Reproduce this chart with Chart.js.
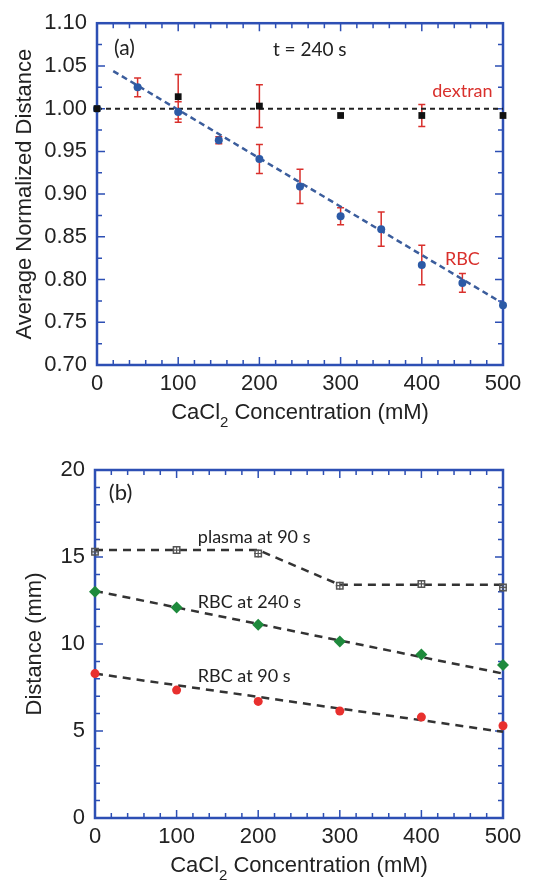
<!DOCTYPE html>
<html>
<head>
<meta charset="utf-8">
<script src="https://cdn.jsdelivr.net/npm/chart.js@4.4.0/dist/chart.umd.min.js"></script>
<style>
  body { margin: 0; background: #fff; width: 542px; height: 885px; overflow: hidden; }
  canvas { display: block; }
</style>
</head>
<body>
<canvas id="chartA" width="542" height="440"></canvas>
<canvas id="chartB" width="542" height="445"></canvas>
<script>
// ---- panel (a): average normalized distance, t = 240 s ----
const rbcConc = [0, 50, 100, 150, 200, 250, 300, 350, 400, 450, 500];
const rbcDist = [1.000, 1.025, 0.996, 0.963, 0.941, 0.909, 0.874, 0.859, 0.817, 0.796, 0.770];
const rbcErr  = [0, 0.011, 0.012, 0.004, 0.017, 0.020, 0.010, 0.020, 0.023, 0.011, 0];
const dexConc = [0, 100, 200, 300, 400, 500];
const dexDist = [1.000, 1.014, 1.003, 0.992, 0.992, 0.992];
const dexErr  = [0, 0.026, 0.025, 0, 0.013, 0];
const rbcFitConc = [20, 500];
const rbcFitDist = [1.044, 0.772];
const dexFitConc = [0, 500];
const dexFitDist = [1.0, 1.0];

// ---- panel (b): distance in mm ----
const concB = [0, 100, 200, 300, 400, 500];
const plasma90 = [15.3, 15.4, 15.2, 13.35, 13.45, 13.25];
const rbc240 = [13.0, 12.1, 11.1, 10.15, 9.4, 8.8];
const rbc90 = [8.3, 7.35, 6.7, 6.15, 5.8, 5.3];
const plasmaFitConc = [0, 200, 300, 500];
const plasmaFit = [15.4, 15.4, 13.4, 13.4];
const rbc240FitConc = [0, 500];
const rbc240Fit = [13.05, 8.3];
const rbc90FitConc = [0, 500];
const rbc90Fit = [8.3, 4.95];

const frameBlue = "#2d4fb4";
const textFont = "Lato, 'Open Sans', sans-serif";

Chart.defaults.font.family = "'Liberation Sans', Arial, sans-serif";
Chart.defaults.font.size = 22;
Chart.defaults.color = "#222";

function pts(xs, ys) {
  return xs.map((x, i) => ({ x: x, y: ys[i] }));
}

// frame + inward ticks on all four sides, x title with subscript
const framePlugin = {
  id: "frame",
  beforeDatasetsDraw(chart) {
    const { ctx, chartArea: a, scales } = chart;
    ctx.save();
    ctx.strokeStyle = frameBlue;
    ctx.lineWidth = 1.5;
    ctx.beginPath();
    scales.x.ticks.forEach((t) => {
      const px = scales.x.getPixelForValue(t.value);
      const len = t.label ? 8 : 5;
      ctx.moveTo(px, a.bottom); ctx.lineTo(px, a.bottom - len);
      ctx.moveTo(px, a.top); ctx.lineTo(px, a.top + len);
    });
    scales.y.ticks.forEach((t) => {
      const py = scales.y.getPixelForValue(t.value);
      const len = t.label ? 8 : 5;
      ctx.moveTo(a.left, py); ctx.lineTo(a.left + len, py);
      ctx.moveTo(a.right, py); ctx.lineTo(a.right - len, py);
    });
    ctx.stroke();
    ctx.lineWidth = 2.5;
    ctx.strokeRect(a.left, a.top, a.right - a.left, a.bottom - a.top);
    ctx.restore();
  },
  afterDraw(chart) {
    const { ctx, chartArea: a } = chart;
    ctx.save();
    ctx.fillStyle = "#222";
    ctx.textBaseline = "alphabetic";
    ctx.textAlign = "left";
    const big = "22px 'Liberation Sans', Arial, sans-serif";
    const small = "15px 'Liberation Sans', Arial, sans-serif";
    ctx.font = big;
    const w1 = ctx.measureText("CaCl").width;
    const w3 = ctx.measureText(" Concentration (mM)").width;
    ctx.font = small;
    const w2 = ctx.measureText("2").width;
    let x = (a.left + a.right) / 2 - (w1 + w2 + w3) / 2;
    const y = a.bottom + 54;
    ctx.font = big;
    ctx.fillText("CaCl", x, y);
    x += w1;
    ctx.font = small;
    ctx.fillText("2", x, y + 8);
    x += w2;
    ctx.font = big;
    ctx.fillText(" Concentration (mM)", x, y);
    ctx.restore();
  }
};

function errorBarPlugin(sets) {
  return {
    id: "errbars",
    beforeDatasetsDraw(chart) {
      const { ctx, scales } = chart;
      ctx.save();
      ctx.strokeStyle = "#d9302c";
      ctx.lineWidth = 1.5;
      ctx.beginPath();
      sets.forEach((s) => {
        s.x.forEach((v, i) => {
          if (!s.err[i]) return;
          const px = scales.x.getPixelForValue(v);
          const y1 = scales.y.getPixelForValue(s.y[i] + s.err[i]);
          const y2 = scales.y.getPixelForValue(s.y[i] - s.err[i]);
          ctx.moveTo(px, y1); ctx.lineTo(px, y2);
          ctx.moveTo(px - 3.5, y1); ctx.lineTo(px + 3.5, y1);
          ctx.moveTo(px - 3.5, y2); ctx.lineTo(px + 3.5, y2);
        });
      });
      ctx.stroke();
      ctx.restore();
    }
  };
}

function labelPlugin(labels) {
  return {
    id: "labels",
    afterDatasetsDraw(chart) {
      const { ctx, scales } = chart;
      ctx.save();
      ctx.textBaseline = "middle";
      labels.forEach((l) => {
        ctx.font = (l.size || 18) + "px " + textFont;
        ctx.fillStyle = l.color;
        ctx.textAlign = l.align || "left";
        ctx.fillText(l.text, scales.x.getPixelForValue(l.x), scales.y.getPixelForValue(l.y));
      });
      ctx.restore();
    }
  };
}

function xAxis(height) {
  return {
    type: "linear",
    min: 0,
    max: 500,
    grid: { display: false, drawTicks: false },
    border: { display: false },
    ticks: {
      stepSize: 20,
      autoSkip: false,
      maxRotation: 0,
      padding: 6,
      callback: (v) => (Math.round(v) % 100 === 0 ? String(Math.round(v)) : "")
    },
    afterFit: (s) => { s.height = height; }
  };
}

// ---------- chart (a) ----------
new Chart(document.getElementById("chartA"), {
  type: "scatter",
  data: {
    datasets: [
      {
        data: pts(dexConc, dexDist),
        pointStyle: "rect",
        pointRadius: 4.8,
        backgroundColor: "#111",
        borderColor: "#111",
        borderWidth: 0,
        clip: false,
        order: 0
      },
      {
        data: pts(rbcConc, rbcDist),
        pointStyle: "circle",
        pointRadius: 4,
        backgroundColor: "#2c5aa6",
        borderColor: "#2c5aa6",
        borderWidth: 0,
        clip: false,
        order: 1
      },
      {
        data: pts(rbcFitConc, rbcFitDist),
        showLine: true,
        borderColor: "#3b5d9c",
        borderWidth: 2.5,
        borderDash: [6, 4],
        pointRadius: 0,
        order: 2
      },
      {
        data: pts(dexFitConc, dexFitDist),
        showLine: true,
        borderColor: "#222",
        borderWidth: 2,
        borderDash: [5, 4],
        pointRadius: 0,
        order: 3
      }
    ]
  },
  options: {
    responsive: false,
    animation: false,
    layout: { padding: { top: 17, right: 39, left: 0, bottom: 0 } },
    plugins: { legend: { display: false }, tooltip: { enabled: false } },
    scales: {
      x: xAxis(75),
      y: {
        type: "linear",
        min: 0.7,
        max: 1.1,
        grid: { display: false, drawTicks: false },
        border: { display: false },
        ticks: {
          stepSize: 0.025,
          autoSkip: false,
          padding: 10,
          callback: (v) => (Math.round(v * 1000) % 50 === 0 ? v.toFixed(2) : "")
        },
        title: {
          display: true,
          text: "Average Normalized Distance",
          font: { size: 22 },
          padding: { top: 12, bottom: 0 }
        },
        afterFit: (s) => { s.width = 97; }
      }
    }
  },
  plugins: [
    framePlugin,
    errorBarPlugin([
      { x: rbcConc, y: rbcDist, err: rbcErr },
      { x: dexConc, y: dexDist, err: dexErr }
    ]),
    labelPlugin([
      { text: "(a)", x: 21, y: 1.071, color: "#222", size: 21 },
      { text: "t = 240 s", x: 262, y: 1.069, color: "#222", size: 19, align: "center" },
      { text: "dextran", x: 450, y: 1.021, color: "#d9302c", size: 18, align: "center" },
      { text: "RBC", x: 450, y: 0.824, color: "#d9302c", size: 18, align: "center" }
    ])
  ]
});

// ---------- chart (b) ----------
new Chart(document.getElementById("chartB"), {
  type: "scatter",
  data: {
    datasets: [
      {
        data: pts(concB, plasma90),
        pointStyle: "cross",
        pointRadius: 4,
        borderColor: "#555",
        borderWidth: 1.2,
        clip: false,
        order: 0
      },
      {
        data: pts(concB, plasma90),
        pointStyle: "rect",
        pointRadius: 4.5,
        backgroundColor: "rgba(255,255,255,0)",
        borderColor: "#555",
        borderWidth: 1.5,
        clip: false,
        order: 1
      },
      {
        data: pts(concB, rbc240),
        pointStyle: "rectRot",
        pointRadius: 6,
        backgroundColor: "#1e8a3c",
        borderColor: "#1e8a3c",
        borderWidth: 0,
        clip: false,
        order: 2
      },
      {
        data: pts(concB, rbc90),
        pointStyle: "circle",
        pointRadius: 4.5,
        backgroundColor: "#e8302e",
        borderColor: "#e8302e",
        borderWidth: 0,
        clip: false,
        order: 3
      },
      {
        data: pts(plasmaFitConc, plasmaFit),
        showLine: true,
        borderColor: "#333",
        borderWidth: 2.5,
        borderDash: [8, 6],
        pointRadius: 0,
        order: 4
      },
      {
        data: pts(rbc240FitConc, rbc240Fit),
        showLine: true,
        borderColor: "#333",
        borderWidth: 2.5,
        borderDash: [8, 6],
        pointRadius: 0,
        order: 5
      },
      {
        data: pts(rbc90FitConc, rbc90Fit),
        showLine: true,
        borderColor: "#333",
        borderWidth: 2.5,
        borderDash: [8, 6],
        pointRadius: 0,
        order: 6
      }
    ]
  },
  options: {
    responsive: false,
    animation: false,
    layout: { padding: { top: 30, right: 39, left: 0, bottom: 0 } },
    plugins: { legend: { display: false }, tooltip: { enabled: false } },
    scales: {
      x: xAxis(67),
      y: {
        type: "linear",
        min: 0,
        max: 20,
        grid: { display: false, drawTicks: false },
        border: { display: false },
        ticks: {
          stepSize: 1,
          autoSkip: false,
          padding: 10,
          callback: (v) => (Math.round(v) % 5 === 0 ? String(Math.round(v)) : "")
        },
        title: {
          display: true,
          text: "Distance (mm)",
          font: { size: 22 },
          padding: { top: 22, bottom: 0 }
        },
        afterFit: (s) => { s.width = 95; }
      }
    }
  },
  plugins: [
    framePlugin,
    labelPlugin([
      { text: "(b)", x: 17, y: 18.7, color: "#222", size: 22 },
      { text: "plasma at 90 s", x: 126, y: 16.15, color: "#222", size: 18 },
      { text: "RBC at 240 s", x: 126, y: 12.4, color: "#222", size: 18 },
      { text: "RBC at 90 s", x: 126, y: 8.16, color: "#222", size: 18 }
    ])
  ]
});
</script>
</body>
</html>
